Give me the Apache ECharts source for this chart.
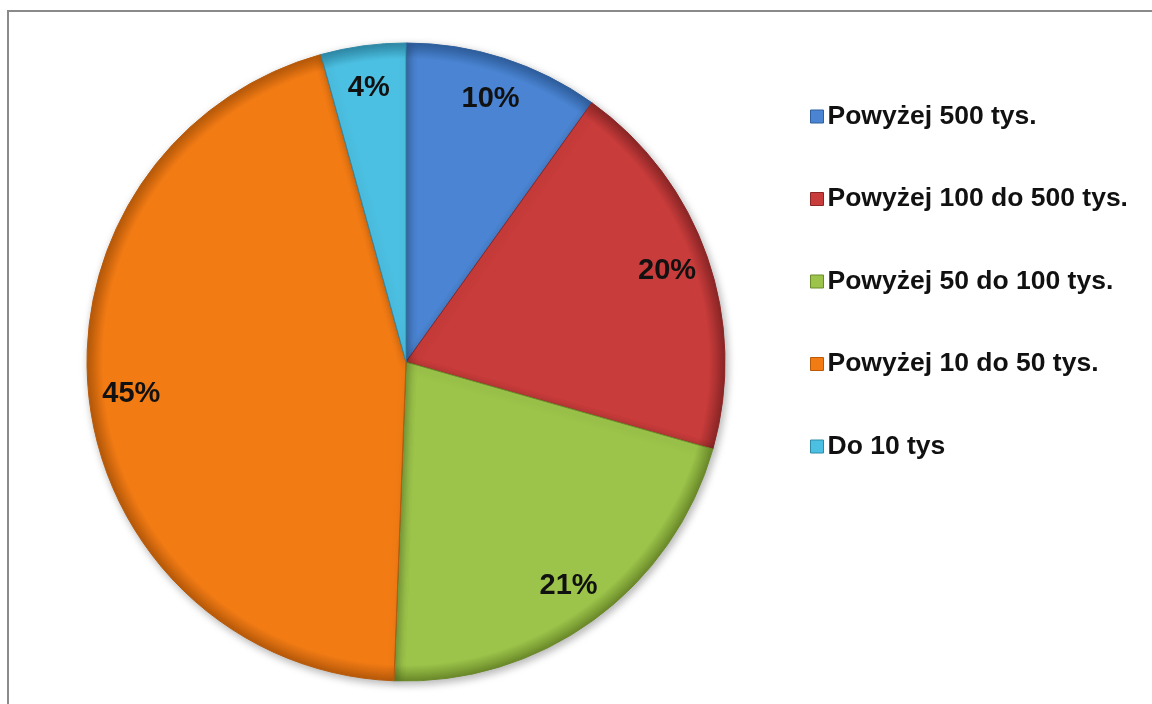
<!DOCTYPE html>
<html>
<head>
<meta charset="utf-8">
<script src="https://cdn.jsdelivr.net/npm/echarts@6/dist/echarts.min.js"></script>
<style>
html,body{margin:0;padding:0;background:#fff;}
#c{width:1152px;height:704px;}
</style>
</head>
<body>
<div id="c"></div>
<script>
const categories = ['Powyżej 500 tys.', 'Powyżej 100 do 500 tys.', 'Powyżej 50 do 100 tys.', 'Powyżej 10 do 50 tys.', 'Do 10 tys'];
const values = [9.9, 19.5, 21.2, 45.1, 4.3];
const colors = ['#4a84d2', '#c83c3b', '#9cc44a', '#f27b14', '#4cc0e2'];
const edgeColors = ['#2f5f9e', '#8c2626', '#6b8a2a', '#b85a0a', '#2f8aa8'];

const chart = echarts.init(document.getElementById('c'));
const center = [406, 362];
const R = 319;

const mainData = categories.map((n, i) => ({
  name: n, value: values[i],
  itemStyle: {
    color: {
      type: 'radial', x: center[0], y: center[1], r: R, global: true,
      colorStops: [{offset: 0, color: colors[i]}, {offset: 0.95, color: colors[i]}, {offset: 1, color: edgeColors[i]}]
    },
    borderColor: edgeColors[i]
  }
}));

chart.setOption({
  animation: false,
  graphic: [{
    type: 'rect', shape: {x: 8, y: 11, width: 1200, height: 800},
    style: {fill: 'none', stroke: '#8a8a8a', lineWidth: 2}, silent: true
  }],
  legend: {
    orient: 'vertical', left: 805, top: 98,
    itemWidth: 13, itemHeight: 13, itemGap: 55.5,
    icon: 'rect',
    data: categories.map((n, i) => ({name: n, itemStyle: {color: colors[i], borderColor: edgeColors[i], borderWidth: 1}})),
    textStyle: {fontFamily: 'Liberation Sans', fontWeight: 'bold', fontSize: 26.5, lineHeight: 25, color: '#111', padding: [0, 0, 0, -1]}
  },
  series: [{
    type: 'pie', center: center, radius: [0, R], startAngle: 90, clockwise: true,
    label: {show: false}, labelLine: {show: false},
    itemStyle: {borderWidth: 1, shadowBlur: 8, shadowOffsetX: 2, shadowOffsetY: 3, shadowColor: 'rgba(0,0,0,0.3)'},
    emphasis: {disabled: true},
    data: mainData
  }, {
    type: 'pie', center: center, radius: [228, R], startAngle: 90, clockwise: true, silent: true,
    itemStyle: {color: 'rgba(0,0,0,0)'},
    labelLine: {show: false},
    label: {
      show: true, position: 'inside',
      formatter: p => Math.round(p.value) + '%',
      fontFamily: 'Liberation Sans', fontWeight: 'bold', fontSize: 29, color: '#111'
    },
    emphasis: {disabled: true},
    data: categories.map((n, i) => ({name: n, value: values[i]}))
  }]
});
</script>
</body>
</html>
